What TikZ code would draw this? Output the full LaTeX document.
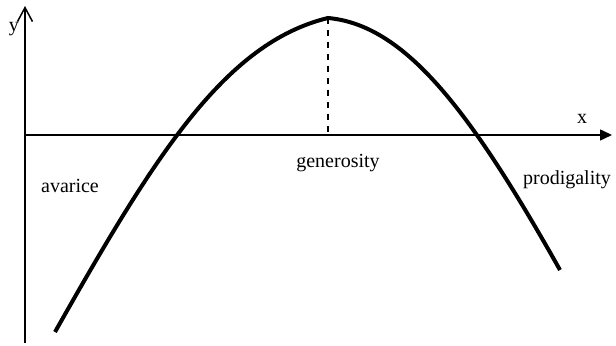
\documentclass[tikz,border=0pt]{standalone}
\usepackage{fontspec}
\setmainfont{Liberation Serif}
\usetikzlibrary{arrows.meta}

\begin{document}
\begin{tikzpicture}[x=0.5pt, y=0.5pt, every node/.style={font=\normalsize}]
    \useasboundingbox (-25,-211) rectangle (591,135);
    % axes
    \coordinate (ybot) at (0,-208);
    \coordinate (ytop) at (0,129);
    \coordinate (xleft) at (0,0);
    \coordinate (xright) at (587,0);
    \draw[line width=0.75pt, -{Straight Barb[length=7pt, width=7.5pt]}] (ybot) -- (ytop);
    \draw[line width=0.75pt, -{Triangle[length=6pt, width=5.5pt]}] (xleft) -- (xright);
    \node[anchor=base] (ylab) at (-11,103) {y};
    \node[anchor=base] (xlab) at (557,11) {x};
    % the curve
    \coordinate (start) at (30,-197);
    \coordinate (peak) at (303,117);
    \coordinate (stop) at (535,-135);
    \coordinate (foot) at (303,0);
    \draw[line width=2pt] (start) .. controls (130,-20) and (200,92) .. (peak)
        .. controls (380,110) and (445,25) .. (stop);
    \draw[line width=0.75pt, dash pattern=on 3pt off 3pt] (peak) -- (foot);
    % labels
    \node[anchor=base] (avarice) at (45,-58) {avarice};
    \node[anchor=base] (generosity) at (313,-33) {generosity};
    \node[anchor=base] (prodigality) at (542,-50) {prodigality};
\end{tikzpicture}
\end{document}
